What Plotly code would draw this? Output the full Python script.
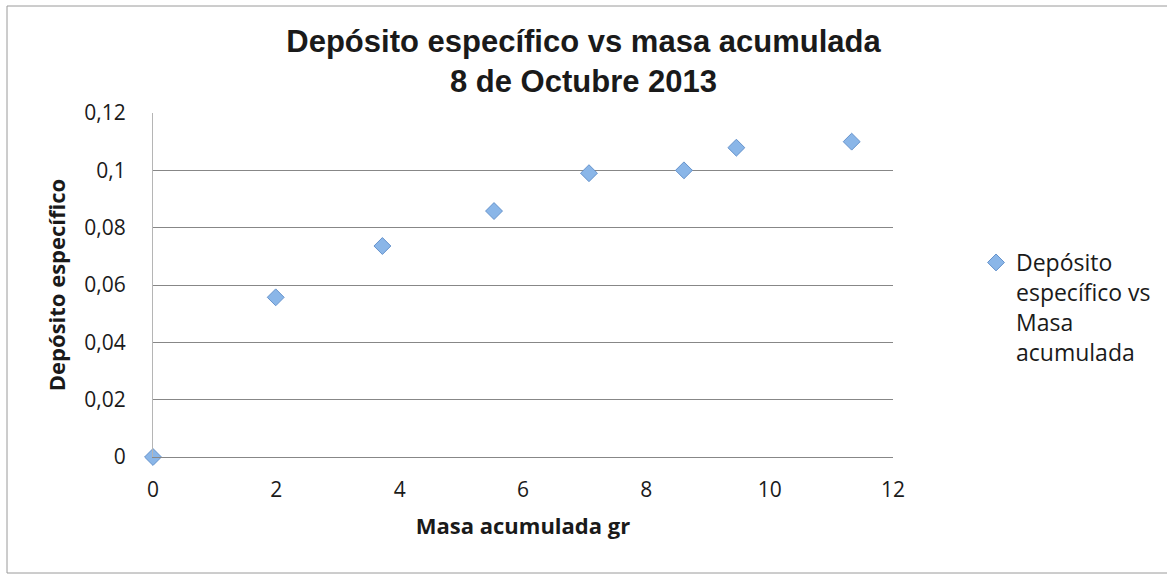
import plotly.graph_objects as go

# Mass accumulated (g) and specific deposit measured on 8 Oct 2013
masa_acumulada = [0.0, 1.99, 3.72, 5.53, 7.07, 8.61, 9.46, 11.33]
deposito_especifico = [0.0, 0.0557, 0.0736, 0.0858, 0.0990, 0.1000, 0.1079, 0.1100]

x_ticks = [0, 2, 4, 6, 8, 10, 12]
y_ticks = [0, 0.02, 0.04, 0.06, 0.08, 0.1, 0.12]
y_tick_labels = ["0", "0,02", "0,04", "0,06", "0,08", "0,1", "0,12"]

W, H = 1167, 578
M_L, M_R, M_T, M_B = 153, 274, 113, 121
GRID = "#878787"
TEXT = "#1a1a1a"

fig = go.Figure()
fig.add_trace(go.Scatter(
    x=masa_acumulada,
    y=deposito_especifico,
    mode="markers",
    name="Depósito<br>específico vs<br>Masa<br>acumulada",
    marker=dict(symbol="diamond", size=13, color="#8ab6e8",
                line=dict(color="#6693cc", width=1)),
    cliponaxis=False,
    showlegend=True,
))

# outer chart frame, expressed in paper units from pixel edges
pw, ph = W - M_L - M_R, H - M_T - M_B
def px_x(p):
    return (p - M_L) / pw
def px_y(p):
    return (H - M_B - p) / ph

fig.add_shape(type="rect", xref="paper", yref="paper",
              x0=px_x(7), x1=px_x(1172), y0=px_y(573), y1=px_y(6),
              line=dict(color="#9a9a9a", width=1), fillcolor="rgba(0,0,0,0)",
              layer="below")

fig.update_layout(
    width=W, height=H,
    margin=dict(l=M_L, r=M_R, t=M_T, b=M_B),
    paper_bgcolor="white", plot_bgcolor="white",
    separators=",.",
    title=dict(
        text="<b>Depósito específico vs masa acumulada<br>8 de Octubre 2013</b>",
        font=dict(family="Liberation Sans, Arial, sans-serif", size=31, color=TEXT),
        x=0.5, xanchor="center", xref="container",
        y=1 - 52 / H, yanchor="top", yref="container",
    ),
    font=dict(family="Open Sans, sans-serif", color=TEXT),
    legend=dict(
        xref="container", yref="container",
        x=976 / W, xanchor="left",
        y=1 - 241 / H, yanchor="top",
        valign="top",
        font=dict(family="Open Sans, sans-serif", size=23, color=TEXT),
        bgcolor="rgba(0,0,0,0)",
        itemclick=False,
    ),
    xaxis=dict(
        range=[0, 12], tickvals=x_ticks,
        showgrid=False, zeroline=False,
        showline=True, linecolor=GRID, linewidth=1,
        ticks="", ticklabelstandoff=14,
        tickfont=dict(size=21, color=TEXT),
        title=dict(text="<b>Masa acumulada gr</b>", standoff=16,
                   font=dict(size=22, color=TEXT)),
    ),
    yaxis=dict(
        range=[0, 0.12], tickvals=y_ticks, ticktext=y_tick_labels,
        showgrid=True, gridcolor=GRID, gridwidth=1,
        zeroline=False,
        showline=True, linecolor="#b5b5b5", linewidth=1,
        ticks="", ticklabelstandoff=22,
        tickfont=dict(size=21, color=TEXT),
        title=dict(text="<b>Depósito específico</b>", standoff=12,
                   font=dict(size=22, color=TEXT)),
    ),
)

fig.write_html("out.html")
